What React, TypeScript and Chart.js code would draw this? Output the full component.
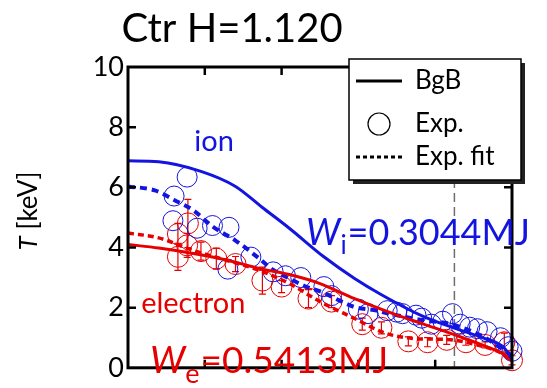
import React, { useEffect, useRef } from "react";
import { Chart, registerables } from "chart.js";

Chart.register(...registerables);

// Normalized radius (rho) and temperature [keV] of each curve
const bgbIonRho = [0, 0.08, 0.19, 0.28, 0.35, 0.42, 0.51, 0.59, 0.66, 0.77, 0.85, 0.93, 0.98, 1.0];
const bgbIonT = [6.88, 6.85, 6.53, 6.03, 5.33, 4.64, 3.69, 2.97, 2.43, 1.7, 1.32, 0.97, 0.66, 0.28];

const fitIonRho = [0, 0.07, 0.12, 0.17, 0.22, 0.28, 0.34, 0.375, 0.42, 0.46, 0.51, 0.55, 0.59, 0.64, 0.68, 0.76, 0.84, 0.92, 1.0];
const fitIonT = [6.03, 5.9, 5.58, 5.24, 4.7, 4.23, 3.65, 3.28, 2.97, 2.72, 2.49, 2.24, 2.02, 1.92, 1.8, 1.6, 1.45, 1.07, 0.4];

const bgbEleRho = [0, 0.08, 0.17, 0.25, 0.35, 0.42, 0.5, 0.59, 0.69, 0.77, 0.85, 0.93, 0.98, 1.0];
const bgbEleT = [4.1, 3.98, 3.8, 3.6, 3.28, 3.1, 2.8, 2.3, 1.8, 1.45, 1.1, 0.72, 0.44, 0.22];

const fitEleRho = [0, 0.08, 0.17, 0.25, 0.35, 0.42, 0.5, 0.59, 0.66, 0.7, 0.75, 0.84, 0.91, 0.97, 1.0];
const fitEleT = [4.48, 4.32, 3.9, 3.6, 3.2, 2.8, 2.2, 1.64, 1.2, 1.05, 0.97, 0.93, 0.76, 0.5, 0.22];

// Measured ion temperature
const expIonRho = [0.154, 0.12, 0.117, 0.18, 0.22, 0.263, 0.26, 0.32, 0.378, 0.41, 0.45, 0.51, 0.53, 0.6, 0.625, 0.675, 0.7, 0.715, 0.75, 0.765, 0.79, 0.82, 0.845, 0.865, 0.89, 0.91, 0.935, 0.97, 0.99, 1.0];
const expIonT = [6.34, 5.71, 4.89, 4.64, 4.73, 4.67, 3.28, 3.68, 3.19, 3.06, 3.0, 2.7, 2.4, 1.95, 1.8, 1.9, 1.85, 1.8, 1.75, 1.65, 1.45, 1.55, 1.8, 1.45, 1.35, 1.3, 1.2, 1.0, 0.7, 0.55];

// Measured electron temperature with its uncertainty
const expEleRho = [0.13, 0.156, 0.13, 0.154, 0.19, 0.23, 0.28, 0.35, 0.4, 0.47, 0.53, 0.61, 0.66, 0.73, 0.78, 0.83, 0.88, 0.93, 0.98, 1.0];
const expEleT = [4.45, 4.8, 3.69, 4.07, 3.88, 3.63, 3.45, 2.9, 2.7, 2.3, 2.2, 1.45, 1.33, 0.88, 0.85, 0.93, 0.85, 0.76, 0.85, 0.25];
const expEleErr = [0.35, 0.8, 0.45, 0.4, 0.3, 0.35, 0.25, 0.45, 0.2, 0.3, 0.2, 0.2, 0.2, 0.15, 0.15, 0.15, 0.1, 0.1, 0.3, 0.15];

const yTicks = [0, 2, 4, 6, 8, 10];
const xTicks = [0.2, 0.4, 0.6, 0.8];
const markerRho = 0.85;

const titleText = "Ctr H=1.120";
const ionLabel = "ion";
const eleLabel = "electron";
const ionEnergy = "=0.3044MJ";
const eleEnergy = "=0.5413MJ";
const legendLabels = ["BgB", "Exp.", "Exp. fit"];

const FONT = "Lato, 'DejaVu Sans', sans-serif";
const BLUE = "#1414e0";
const RED = "#e60000";

const pts = (xs: number[], ys: number[]) => xs.map((x, i) => ({ x, y: ys[i] }));

export default function App() {
  const ref = useRef<HTMLCanvasElement>(null);

  useEffect(() => {
    const canvas = ref.current;
    if (!canvas) return;

    const decor = {
      id: "decor",
      beforeDatasetsDraw(chart: any) {
        const { ctx, chartArea: a, scales } = chart;
        const x = scales.x.getPixelForValue(markerRho);
        ctx.save();
        ctx.strokeStyle = "#6e6e6e";
        ctx.lineWidth = 1.5;
        ctx.setLineDash([9, 5]);
        ctx.beginPath();
        ctx.moveTo(x, a.top);
        ctx.lineTo(x, a.bottom);
        ctx.stroke();
        ctx.restore();
      },
      afterDatasetDraw(chart: any, args: any) {
        if (args.index !== 1) return;
        const { ctx, scales } = chart;
        ctx.save();
        ctx.strokeStyle = RED;
        ctx.lineWidth = 1.2;
        expEleRho.forEach((r, i) => {
          const x = scales.x.getPixelForValue(r);
          const y1 = scales.y.getPixelForValue(expEleT[i] + expEleErr[i]);
          const y2 = scales.y.getPixelForValue(expEleT[i] - expEleErr[i]);
          ctx.beginPath();
          ctx.moveTo(x, y1);
          ctx.lineTo(x, y2);
          ctx.moveTo(x - 3.5, y1);
          ctx.lineTo(x + 3.5, y1);
          ctx.moveTo(x - 3.5, y2);
          ctx.lineTo(x + 3.5, y2);
          ctx.stroke();
        });
        ctx.restore();
      },
      afterDraw(chart: any) {
        const { ctx, chartArea: a, scales } = chart;
        ctx.save();
        // frame and inward ticks
        ctx.strokeStyle = "#000";
        ctx.lineWidth = 3;
        ctx.strokeRect(a.left, a.top, a.right - a.left, a.bottom - a.top);
        ctx.lineWidth = 2.5;
        ctx.beginPath();
        xTicks.forEach((v) => {
          const x = scales.x.getPixelForValue(v);
          ctx.moveTo(x, a.top);
          ctx.lineTo(x, a.top + 8);
          ctx.moveTo(x, a.bottom);
          ctx.lineTo(x, a.bottom - 8);
        });
        yTicks.slice(1, -1).forEach((v) => {
          const y = scales.y.getPixelForValue(v);
          ctx.moveTo(a.left, y);
          ctx.lineTo(a.left + 8, y);
          ctx.moveTo(a.right, y);
          ctx.lineTo(a.right - 8, y);
        });
        ctx.stroke();

        // title
        ctx.fillStyle = "#000";
        ctx.textBaseline = "alphabetic";
        ctx.textAlign = "center";
        ctx.font = `40px ${FONT}`;
        ctx.fillText(titleText, 232, 42);

        // y-axis title
        ctx.save();
        ctx.translate(37, 211);
        ctx.rotate(-Math.PI / 2);
        ctx.textAlign = "left";
        ctx.font = `italic 26px ${FONT}`;
        const tW = ctx.measureText("T").width;
        ctx.font = `26px ${FONT}`;
        const rest = " [keV]";
        const rW = ctx.measureText(rest).width;
        const start = -(tW + rW) / 2;
        ctx.font = `italic 26px ${FONT}`;
        ctx.fillText("T", start, 0);
        ctx.font = `26px ${FONT}`;
        ctx.fillText(rest, start + tW, 0);
        ctx.restore();

        // species labels
        ctx.textAlign = "center";
        ctx.font = `29px ${FONT}`;
        ctx.fillStyle = BLUE;
        ctx.fillText(ionLabel, scales.x.getPixelForValue(0.224), 151);
        ctx.fillStyle = RED;
        ctx.fillText(eleLabel, scales.x.getPixelForValue(0.17), 313);

        // stored energy labels
        const energy = (x: number, y: number, sub: string, txt: string, color: string, size: number) => {
          ctx.textAlign = "left";
          ctx.fillStyle = color;
          ctx.font = `italic ${size}px ${FONT}`;
          ctx.fillText("W", x, y);
          let cx = x + ctx.measureText("W").width;
          ctx.font = `${Math.round(size * 0.72)}px ${FONT}`;
          ctx.fillText(sub, cx, y + size * 0.26);
          cx += ctx.measureText(sub).width + 1;
          ctx.font = `${size}px ${FONT}`;
          ctx.fillText(txt, cx, y);
        };
        energy(306, 245, "i", ionEnergy, BLUE, 36);
        energy(150, 373, "e", eleEnergy, RED, 37);

        // legend
        const L = 349, T = 59, R = 521, B = 180;
        ctx.fillStyle = "#222";
        ctx.fillRect(L + 4, T + 4, R - L, B - T);
        ctx.fillStyle = "#fff";
        ctx.fillRect(L, T, R - L, B - T);
        ctx.strokeStyle = "#000";
        ctx.lineWidth = 1.5;
        ctx.strokeRect(L, T, R - L, B - T);

        ctx.lineWidth = 3;
        ctx.beginPath();
        ctx.moveTo(356, 81);
        ctx.lineTo(402, 81);
        ctx.stroke();
        ctx.lineWidth = 1.2;
        ctx.beginPath();
        ctx.arc(379, 124, 11, 0, Math.PI * 2);
        ctx.stroke();
        ctx.lineWidth = 3;
        ctx.setLineDash([4, 3]);
        ctx.beginPath();
        ctx.moveTo(356, 157);
        ctx.lineTo(402, 157);
        ctx.stroke();
        ctx.setLineDash([]);

        ctx.fillStyle = "#000";
        ctx.textAlign = "left";
        ctx.textBaseline = "middle";
        ctx.font = `26px ${FONT}`;
        ctx.fillText(legendLabels[0], 415, 81);
        ctx.fillText(legendLabels[1], 415, 124);
        ctx.fillText(legendLabels[2], 415, 157);
        ctx.restore();
      },
    };

    const chart = new Chart(canvas, {
      type: "scatter",
      data: {
        datasets: [
          {
            label: "Exp. ion",
            data: pts(expIonRho, expIonT),
            showLine: false,
            pointStyle: "circle",
            pointRadius: 10,
            pointBorderWidth: 1,
            pointBorderColor: BLUE,
            pointBackgroundColor: "rgba(0,0,0,0)",
            clip: false,
            order: 2,
          },
          {
            label: "Exp. electron",
            data: pts(expEleRho, expEleT),
            showLine: false,
            pointStyle: "circle",
            pointRadius: 10.5,
            pointBorderWidth: 1,
            pointBorderColor: RED,
            pointBackgroundColor: "rgba(0,0,0,0)",
            clip: false,
            order: 3,
          },
          {
            label: "Exp. fit ion",
            data: pts(fitIonRho, fitIonT),
            showLine: true,
            borderColor: BLUE,
            borderWidth: 4,
            borderDash: [7, 5],
            pointRadius: 0,
            cubicInterpolationMode: "monotone",
            order: 1,
          },
          {
            label: "Exp. fit electron",
            data: pts(fitEleRho, fitEleT),
            showLine: true,
            borderColor: RED,
            borderWidth: 3.5,
            borderDash: [6, 4],
            pointRadius: 0,
            cubicInterpolationMode: "monotone",
            order: 1,
          },
          {
            label: "BgB ion",
            data: pts(bgbIonRho, bgbIonT),
            showLine: true,
            borderColor: BLUE,
            borderWidth: 3,
            pointRadius: 0,
            cubicInterpolationMode: "monotone",
            order: 0,
          },
          {
            label: "BgB electron",
            data: pts(bgbEleRho, bgbEleT),
            showLine: true,
            borderColor: RED,
            borderWidth: 3,
            pointRadius: 0,
            cubicInterpolationMode: "monotone",
            order: 0,
          },
        ],
      },
      options: {
        responsive: false,
        animation: false,
        layout: { padding: { top: 67, bottom: 4, right: 35, left: 0 } },
        plugins: { legend: { display: false }, tooltip: { enabled: false }, title: { display: false } },
        scales: {
          x: {
            type: "linear",
            min: 0,
            max: 1,
            display: false,
          },
          y: {
            type: "linear",
            min: 0,
            max: 10,
            afterBuildTicks: (s: any) => {
              s.ticks = yTicks.map((v) => ({ value: v }));
            },
            afterFit: (s: any) => {
              s.width = 128;
            },
            grid: { display: false, drawTicks: false },
            border: { display: false },
            ticks: {
              color: "#000",
              padding: 4,
              font: { family: FONT, size: 27 },
            },
          },
        },
      },
      plugins: [decor],
    });

    return () => chart.destroy();
  }, []);

  return (
    <div style={{ position: "absolute", left: 0, top: 0, width: 547, height: 388 }}>
      <canvas ref={ref} width={547} height={388} />
    </div>
  );
}
